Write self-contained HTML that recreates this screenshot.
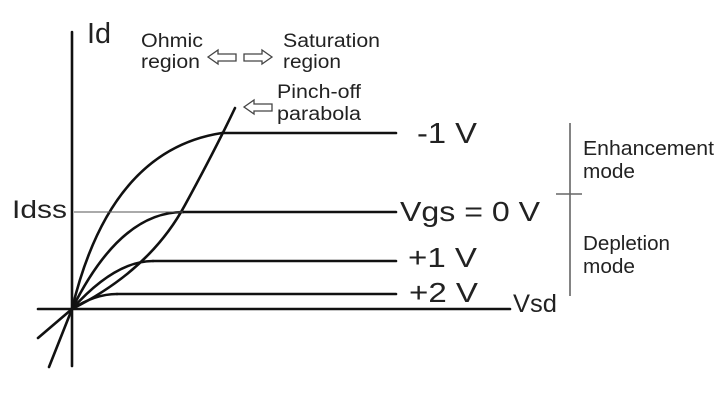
<!DOCTYPE html>
<html><head><style>
html,body{margin:0;padding:0;background:#fff;width:720px;height:404px;overflow:hidden}
svg{display:block}
text{font-family:"Liberation Sans",Arial,sans-serif;fill:#222}
</style></head><body>
<svg width="720" height="404" viewBox="0 0 720 404">
<g stroke="#111" stroke-width="2.6" fill="none" stroke-linecap="round">
<line x1="72" y1="32" x2="72" y2="366"/>
<line x1="38" y1="309" x2="510" y2="309"/>
<line x1="72" y1="309" x2="38" y2="338"/>
<line x1="72" y1="309" x2="49" y2="367"/>
<line x1="222" y1="133" x2="396" y2="133"/>
<line x1="183" y1="212" x2="396" y2="212"/>
<line x1="153" y1="261" x2="396" y2="261"/>
<line x1="117" y1="294" x2="396" y2="294"/>
<path d="M72 309 Q110 150 222 133"/>
<path d="M72 309 Q120 212 183 212"/>
<path d="M72 309 Q115 261 153 261"/>
<path d="M72 309 Q95 294 117 294"/>
<path d="M72 309 Q150 270 185 205 Q215 150 235 108"/>
</g>
<line x1="74" y1="212" x2="183" y2="212" stroke="#555" stroke-width="1"/>
<line x1="570" y1="123" x2="570" y2="296" stroke="#666" stroke-width="1.6"/>
<line x1="556" y1="194" x2="582" y2="194" stroke="#666" stroke-width="1.6"/>
<g fill="#fff" stroke="#444" stroke-width="1.3">
<path d="M208 57 L218 50 L218 54 L236 54 L236 61 L218 61 L218 64 Z"/>
<path d="M272 57 L262 50 L262 54 L244 54 L244 61 L262 61 L262 64 Z"/>
<path d="M244 107 L254 100 L254 104 L272 104 L272 111 L254 111 L254 114 Z"/>
</g>
<text x="87" y="43" font-size="29" textLength="24" lengthAdjust="spacingAndGlyphs">Id</text>
<text x="141" y="47" font-size="19" textLength="62" lengthAdjust="spacingAndGlyphs">Ohmic</text>
<text x="141" y="68" font-size="19" textLength="59" lengthAdjust="spacingAndGlyphs">region</text>
<text x="283" y="47" font-size="19" textLength="97" lengthAdjust="spacingAndGlyphs">Saturation</text>
<text x="283" y="68" font-size="19" textLength="58" lengthAdjust="spacingAndGlyphs">region</text>
<text x="277" y="98" font-size="19" textLength="84" lengthAdjust="spacingAndGlyphs">Pinch-off</text>
<text x="277" y="120" font-size="19" textLength="84" lengthAdjust="spacingAndGlyphs">parabola</text>
<text x="12" y="218" font-size="25" textLength="55" lengthAdjust="spacingAndGlyphs">Idss</text>
<text x="417" y="143" font-size="29" textLength="60" lengthAdjust="spacingAndGlyphs">-1 V</text>
<text x="400" y="221" font-size="28" textLength="140" lengthAdjust="spacingAndGlyphs">Vgs = 0 V</text>
<text x="408" y="267" font-size="28" textLength="69" lengthAdjust="spacingAndGlyphs">+1 V</text>
<text x="409" y="302" font-size="28" textLength="69" lengthAdjust="spacingAndGlyphs">+2 V</text>
<text x="513" y="312" font-size="25" textLength="44" lengthAdjust="spacingAndGlyphs">Vsd</text>
<text x="583" y="155" font-size="20" textLength="131" lengthAdjust="spacingAndGlyphs">Enhancement</text>
<text x="583" y="178" font-size="20" textLength="52" lengthAdjust="spacingAndGlyphs">mode</text>
<text x="583" y="250" font-size="20" textLength="87" lengthAdjust="spacingAndGlyphs">Depletion</text>
<text x="583" y="273" font-size="20" textLength="52" lengthAdjust="spacingAndGlyphs">mode</text>
</svg>
</body></html>
